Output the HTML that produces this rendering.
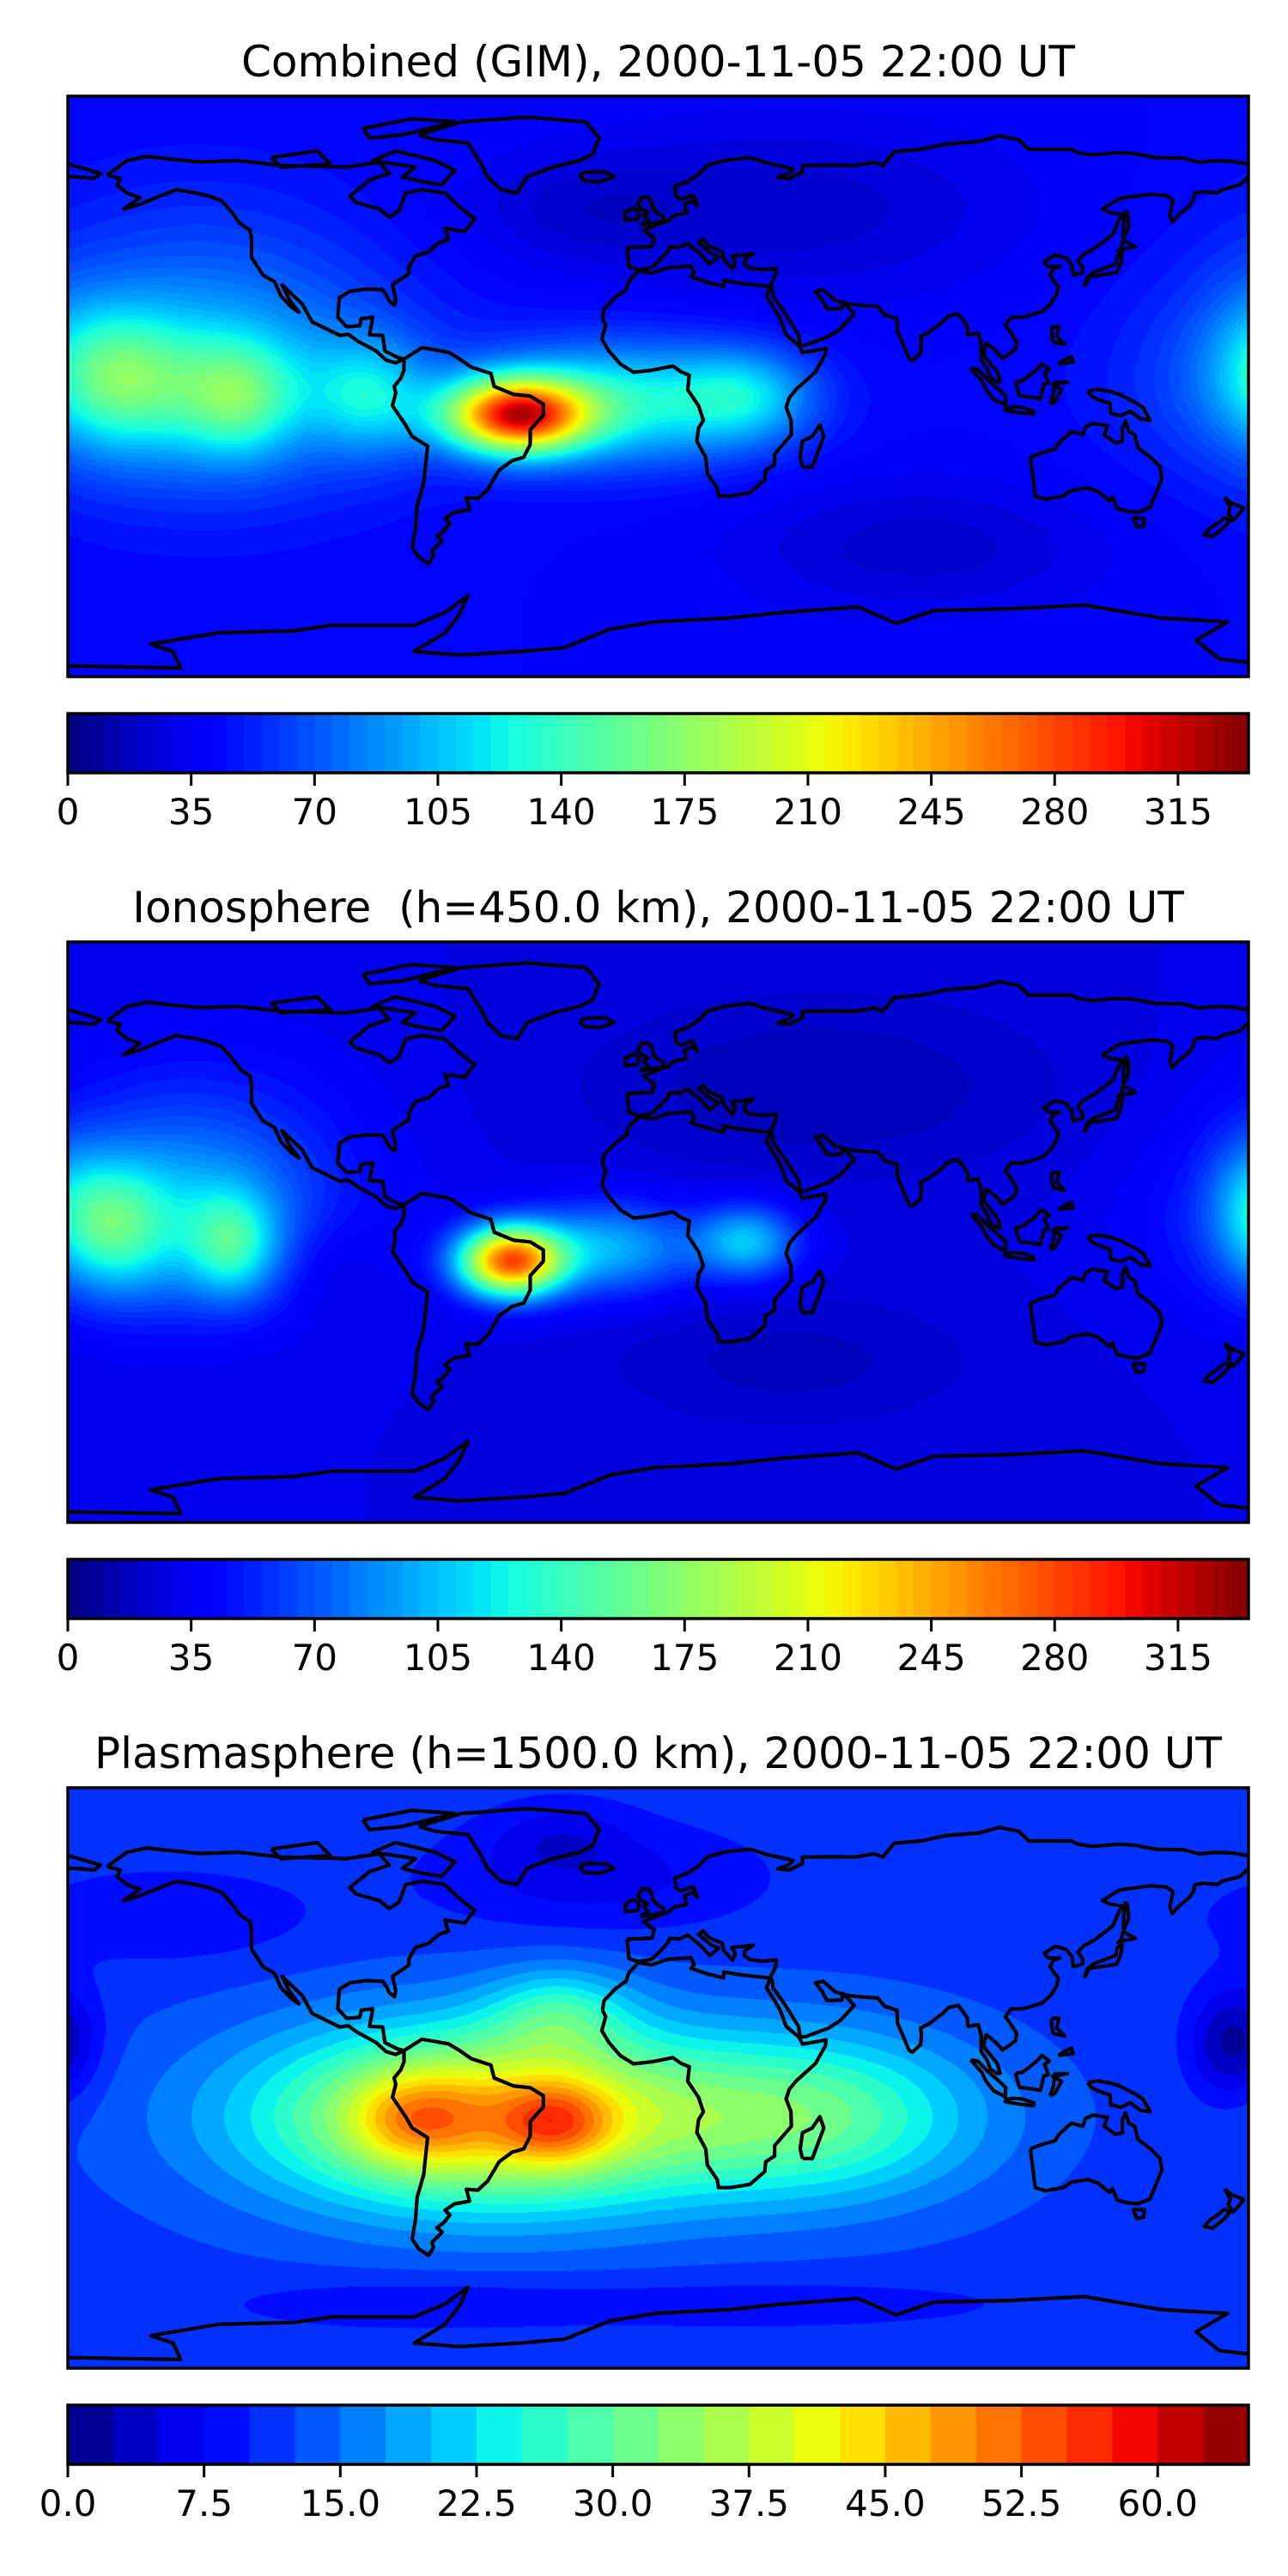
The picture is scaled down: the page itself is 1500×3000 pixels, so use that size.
<!DOCTYPE html>
<html><head><meta charset="utf-8">
<style>
html,body{margin:0;padding:0;background:#fff;}
body{width:1500px;height:3000px;position:relative;overflow:hidden;font-family:"DejaVu Sans","Liberation Sans",sans-serif;}
.title{position:absolute;left:0;width:1533px;text-align:center;font-size:50px;white-space:pre;color:#000;line-height:1;}
canvas{position:absolute;}
svg{position:absolute;left:0;top:0;}
</style></head>
<body>
<div class="title" style="top:47px">Combined (GIM), 2000-11-05 22:00 UT</div>
<div class="title" style="top:1032px">Ionosphere  (h=450.0 km), 2000-11-05 22:00 UT</div>
<div class="title" style="top:2017px">Plasmasphere (h=1500.0 km), 2000-11-05 22:00 UT</div>
<canvas id="c1" width="1375" height="676" style="left:79px;top:112px"></canvas>
<canvas id="c2" width="1375" height="676" style="left:79px;top:1097px"></canvas>
<canvas id="c3" width="1375" height="676" style="left:79px;top:2082px"></canvas>
<svg id="ov" width="1500" height="3000"></svg>
<script>
// ---- data ----
// gaussians: [lon, lat, amplitude, sigmaLon, sigmaLat]
const p1Base = 40;
const p1Gauss = [[-43,-9,235,15,8],[-10,-5,85,30,13],[27,-3,50,14,10],[-165,3,60,14,14],[-128,-4,60,12,12],[-88,-3,55,12,12],[-148,0,30,30,14],[-140,0,35,45,25],[-140,20,25,40,30],[180,15,10,10,15],[40,55,-18,50,20],[80,-50,-18,40,15],[-25,55,-12,25,12]];
const p2Base = 30;
const p2Gauss = [[-45,-9,235,11,7.5],[-15,-5,70,18,10],[27,-3,75,11,8],[-166,2,65,11,13],[-130,-4,65,9,11],[-150,0,35,35,18],[-148,5,25,25,20],[-140,25,25,35,25],[180,10,30,9,14],[50,45,-15,50,20],[40,-40,-12,40,15],[-100,-10,-12,10,12]];
const p3Base = 11.5;
const p3Gauss = [[-50,-12,33,50,20],[-31,-14,14,12,9],[-74,-13,12,14,10],[50,-12,16,35,18],[-30,20,10,15,10],[-20,62,-5,35,12],[-30,75,-4,15,8],[-150,50,-4,30,10],[-180,12,-6,8,12],[171,10,-6,8,12],[30,-70,-3,60,6],[-80,-70,-3,40,6]];
const p1Step = 5, p1Max = 335;
const p2Step = 5, p2Max = 335;
const p3Step = 2.5, p3Max = 65;
const p1Ticks = [0,35,70,105,140,175,210,245,280,315];
const p2Ticks = [0,35,70,105,140,175,210,245,280,315];
const p3Ticks = [0,7.5,15,22.5,30,37.5,45,52.5,60];
const p3TickLabels = ["0.0","7.5","15.0","22.5","30.0","37.5","45.0","52.5","60.0"];

const coastNA = [[-168,65.5],[-162,70],[-156,71.3],[-140,69.6],[-128,70],[-115,68.5],[-95,68],[-85,69.5],[-82,66],[-88,64],[-94,59],[-92,57],[-85,55],[-82,52.5],[-79,54.5],[-77,60],[-72,61],[-65,60],[-61,56],[-56,52],[-59,48],[-65,49],[-64,45.5],[-67,44.5],[-70,41.7],[-74,40.5],[-76,37],[-76,35],[-81,31.5],[-80,27],[-80.4,25.2],[-82,26.5],[-82.7,28],[-84,30],[-89,30.2],[-94,29.5],[-97.2,27.5],[-97.5,24],[-97.7,21.5],[-95,18.5],[-91,18.8],[-90.5,21],[-87,21.5],[-88,16],[-84,15.8],[-83.3,11],[-79.5,9],[-77.5,8.5],[-80,7.3],[-83,8.2],[-86,11],[-91.5,14],[-94.5,16.2],[-97,15.8],[-105.5,20],[-108.5,25.5],[-114.7,31.5],[-112.5,27],[-109.5,23],[-112,24.8],[-115,28],[-117,32.5],[-120.5,34.5],[-124,40],[-124,46],[-124.5,48.5],[-127.5,50.5],[-130,54],[-133,57.5],[-137,59],[-141,60],[-147,61],[-152,59],[-158,56.5],[-163,55],[-158,58.5],[-162,60],[-165,62.5],[-164,64.5],[-168,65.5]];
const coastGreenland = [[-73,78],[-60,82],[-40,83.5],[-22,82],[-18,77],[-20,72],[-24,70],[-32,68],[-40,65],[-43,60],[-48,61],[-52,65],[-54,69],[-58,75.5],[-68,76.5],[-73,78]];
const coastBaffin = [[-80,73],[-68,70],[-62,67],[-66,62.5],[-72,63.5],[-78,65],[-74,68],[-87,70],[-80,73]];
const coastEllesmere = [[-90,80],[-75,83],[-62,82],[-78,78],[-88,77],[-90,80]];
const coastVictoria = [[-118,71],[-104,73],[-100,69],[-115,68],[-118,71]];
const coastSA = [[-77.5,8.5],[-72,12],[-64,10.6],[-60.5,8.5],[-57,6],[-51,4],[-50,0],[-44,-2.5],[-39,-3],[-35,-5.5],[-35,-9],[-39,-13.5],[-39,-18],[-41,-22],[-44.5,-23],[-48.5,-26],[-52,-32],[-55,-34.8],[-58.5,-34.5],[-57.5,-38.2],[-62,-39],[-65,-41],[-63.5,-42.5],[-65.5,-45],[-67.5,-46.5],[-65.8,-47.8],[-69,-51],[-68.5,-52.5],[-70,-55],[-73,-53],[-75,-50],[-74,-44],[-73.5,-37],[-71.5,-30],[-70.3,-18.5],[-75,-15.5],[-77,-12],[-81,-6],[-80,-2],[-80.5,0],[-78.5,2.5],[-77.5,5],[-77.5,8.5]];
const coastAfrica = [[-17,21],[-16.5,24],[-13,27.7],[-9.8,30],[-9,32.5],[-6,35.8],[-2,35.1],[3,36.8],[10,37.3],[11,35.2],[10,34],[15,32.3],[20,31],[20,32.9],[25,32],[32,31.2],[34.3,31],[33,28],[35.5,24],[37.2,21],[39,16],[43,12.6],[44,10.5],[51.2,11.8],[51,10],[48,4.5],[42,-1],[40,-3.5],[39,-6.5],[40.5,-10.5],[40.6,-15],[35.5,-21],[35.5,-24.2],[32.8,-26],[32.5,-29],[28,-33],[22,-34],[18.4,-34],[18,-31.5],[15,-27],[14.5,-22],[11.8,-17],[12.3,-13],[13.8,-10.5],[12.3,-6],[9,-1],[9.5,3.5],[7,4.5],[4.5,6.3],[-2,5],[-7.5,4.4],[-11.5,6.9],[-15,11],[-17.2,14.7],[-16,19],[-17,21]];
const coastMadagascar = [[44,-25],[47,-25],[50.5,-15.5],[49.3,-12],[47,-15.5],[44,-17],[43.3,-22],[44,-25]];
const coastEurasia = [[-9.5,43],[-9,38.7],[-8.9,37],[-6,36.1],[-2,36.8],[0,38.7],[3,41.9],[3.5,43.3],[6.5,43.1],[9,44.3],[12.5,41.5],[15.7,38],[17,39],[18.5,40.2],[16,41.4],[12.3,44.5],[13.7,45.6],[15.5,43.5],[19.5,41.8],[20,39.5],[22.7,36.5],[23.5,38.5],[22.5,40.5],[26,40.8],[29,41.2],[26.5,39.5],[26.2,38],[28,36.7],[32,36.2],[36,36.6],[35.8,34.5],[34.3,31.4],[34.9,29.5],[35,28],[38.5,23],[42.8,16],[43.3,12.7],[45,12.8],[52,15.5],[55.5,17.8],[59.8,22.5],[56.3,26.2],[56,24.2],[51.5,24],[50,26.8],[48,29.5],[50.3,30],[54,26.7],[57.3,25.7],[62,25.1],[67,24.8],[69,22.3],[72.8,21],[73,17],[74.5,13.5],[76.5,8.6],[77.5,8],[80,10.3],[80.3,13.5],[80,15.5],[82.3,16.6],[86.8,20],[88.5,21.8],[91.5,22.5],[94.2,18.8],[94.5,16],[97.6,16.5],[98.5,13.3],[98.5,8.2],[100.3,5.5],[101.3,2.8],[103.5,1.3],[104.3,1.5],[103.4,4.5],[102,6.2],[100.2,8.5],[99.2,10],[100,13.4],[101,12.7],[103,11],[105,8.7],[106.5,9.7],[109,11.6],[109.3,13.8],[107,17.5],[105.8,19],[107.7,21.5],[111,21.4],[113.8,22.2],[117,23.2],[119.6,25.5],[121.5,28.5],[122,31],[121,32.3],[119.5,34.4],[120.5,36.5],[122.5,37.2],[119,37.2],[117.7,38.6],[121,40.8],[122.3,40.5],[124.3,39.9],[126.2,37.7],[126.5,34.5],[129.4,35.3],[129.5,36.8],[128,39],[129.8,41],[133,42.8],[138.5,47],[140.5,51.5],[141.4,53.3],[137.5,54],[135.5,55],[140.7,58.3],[150,59.6],[155,59.2],[157,57.8],[156,53],[156.8,51],[158.5,53],[162,56],[163.3,58],[163.5,59.8],[166,60.4],[170.5,60],[172,61],[177.5,62.5],[179.5,64.5],[180,65]];
const coastSiberia = [[180,68.9],[175,69.8],[170,70],[165,69.5],[160,70.8],[152,70.9],[145,72.2],[140,72.5],[132.5,71.8],[128,72.5],[126,73.5],[113,73.5],[110,76.5],[104,77.7],[98,76],[88,75.2],[80,73.5],[72,72.8],[68.5,68.5],[66,69.5],[60,68.5],[54,68.6],[44,68.5],[44,66.5],[40,64.5],[36.5,64.8],[40,66.2],[41.1,67.5],[33,69.3],[28,71],[20,70],[15,68.5],[12,65.5],[9,63.5],[5,62],[5.5,58.8],[7,58],[10.5,59.3],[11,58.5],[12,56],[10.5,57.6],[8.1,56.5],[8.6,53.8],[4.8,53],[3,51.3],[1.6,50.9],[-1.5,49.7],[-4.5,48.5],[-1.2,46],[-1.8,43.4],[-9.5,43]];
const coastChukotka = [[-180,69],[-175,67.5],[-170,66],[-172,64.5],[-178,65],[-180,65]];
const coastBritain = [[-5.5,50],[1.5,51.2],[1.7,52.7],[0,53.5],[-1.5,55],[-2,57.5],[-3,58.6],[-5,58.6],[-6.2,56.5],[-5,55],[-3,54],[-4.5,53.3],[-3,51.5],[-5.5,50]];
const coastIreland = [[-6,52],[-6,54.5],[-7.5,55.3],[-10,54],[-10,51.6],[-6,52]];
const coastIceland = [[-24,65.5],[-22,66.4],[-16,66.5],[-13.5,65],[-18,63.4],[-22.5,63.8],[-24,65.5]];
const coastJapan = [[130,31],[131.5,34],[135,34.5],[139.8,35.3],[141,38],[141.5,41.3],[140,40.5],[139.5,38],[137,37],[133,35.5],[130.8,33.8],[130,31]];
const coastHokkaido = [[140,41.5],[141.5,42.5],[144,43],[145.5,43.3],[141.8,45.4],[141.3,43.3],[140,41.5]];
const coastSumatra = [[95.3,5.6],[97.5,5.2],[100.5,2],[104,-1],[106,-3],[105.8,-5.8],[102.3,-4],[100,-1],[98.7,1.7],[95.3,5.6]];
const coastJava = [[105.5,-6.8],[108,-6.3],[111,-6.5],[114.5,-7.7],[114.5,-8.6],[110,-8.1],[106,-7.4],[105.5,-6.8]];
const coastBorneo = [[109,1.5],[109.6,-1],[110.2,-2.9],[114.5,-3.5],[116.5,-3.9],[117.6,0.6],[119,1],[117.8,4.3],[119.3,5.3],[117,7],[115.5,5.3],[113,3.2],[111,1.7],[109,1.5]];
const coastSulawesi = [[119.5,-5.5],[120.5,-2.5],[121,1.2],[124.8,1.3],[120.3,0.6],[123,-1],[121,-4.7],[119.5,-5.5]];
const coastNewGuinea = [[131,-1.5],[134,-0.9],[138,-1.6],[141,-2.6],[145.5,-5],[147.8,-6.5],[150,-10.5],[147,-10],[144,-7.7],[141,-9.1],[138,-8.3],[137.8,-5.3],[134,-4],[132,-2.9],[131,-1.5]];
const coastLuzon = [[120,18.5],[122.2,18.5],[121.5,15.5],[124,13],[120.5,13.8],[120,16],[120,18.5]];
const coastMindanao = [[122,7],[126.5,7.5],[126,9.3],[123.5,8],[122,7]];
const coastSakhalin = [[142,46],[143.5,49.5],[143,54],[142.5,54.3],[142,51],[141.8,46.5],[142,46]];
const coastAustralia = [[113.5,-22],[114,-26],[115,-34],[118,-35],[123.5,-34],[126,-32.3],[131,-31.5],[134,-32.5],[137.7,-35.5],[138.5,-34.3],[140,-37.9],[143.5,-38.8],[146.3,-39],[150,-37.5],[153.6,-28.5],[153,-25],[150.5,-22.3],[146.3,-19],[145.3,-15],[143.5,-14],[142.5,-10.7],[141.5,-13],[141.6,-17],[139.5,-17.5],[136,-15],[137,-12.2],[132.5,-11.5],[130.3,-12.6],[129.5,-15],[126,-14],[122.2,-17.5],[121,-19.5],[117,-20.6],[113.5,-22]];
const coastTasmania = [[144.7,-40.7],[148.3,-40.9],[148,-43.2],[146,-43.6],[144.7,-40.7]];
const coastNZN = [[172.7,-34.4],[174.5,-36],[178.5,-37.7],[176.8,-40],[175.2,-41.6],[173.8,-39.2],[174.5,-37.5],[172.7,-34.4]];
const coastNZS = [[172.7,-40.5],[174.2,-41.7],[172.7,-43.6],[171,-45],[169,-46.6],[166.5,-46],[168.3,-44],[171.5,-41.8],[172.7,-40.5]];
const coastAntarctica = [[-180,-86.7],[-145.6,-87.3],[-147.9,-82.2],[-154.7,-79.9],[-134,-76.4],[-111,-75.8],[-99.6,-74.1],[-74.4,-74.1],[-65,-70.1],[-58,-64.9],[-60.6,-70.7],[-65,-76.4],[-74.4,-82.2],[-60.6,-83.3],[-42,-82.2],[-28.5,-81],[-14.7,-75.3],[-1,-73],[22,-71.8],[38,-70.1],[61,-68.4],[72.6,-73.5],[84,-69.5],[107,-69],[130,-67.8],[153,-71.8],[173.6,-73],[164,-78.7],[171,-84.5],[180,-85.6]];
const coastlines = [coastNA,coastGreenland,coastBaffin,coastEllesmere,coastVictoria,coastSA,coastAfrica,coastMadagascar,coastEurasia,coastSiberia,coastChukotka,coastBritain,coastIreland,coastIceland,coastJapan,coastHokkaido,coastSumatra,coastJava,coastBorneo,coastSulawesi,coastNewGuinea,coastLuzon,coastMindanao,coastSakhalin,coastAustralia,coastTasmania,coastNZN,coastNZS,coastAntarctica];

// ---- rendering ----
const MX = 79, MW = 1375, MH = 676;
const ov = document.getElementById('ov');
const NS = 'http://www.w3.org/2000/svg';
function seg(x,pts){for(let i=0;i<pts.length-1;i++){if(x>=pts[i][0]&&x<=pts[i+1][0]){const f=(x-pts[i][0])/(pts[i+1][0]-pts[i][0]);return pts[i][1]+f*(pts[i+1][1]-pts[i][1]);}}return pts[pts.length-1][1];}
function jet(t){t=Math.max(0,Math.min(1,t));
  const r=seg(t,[[0,0],[0.35,0],[0.66,1],[0.89,1],[1,0.5]]);
  const g=seg(t,[[0,0],[0.125,0],[0.375,1],[0.64,1],[0.91,0],[1,0]]);
  const b=seg(t,[[0,0.5],[0.11,1],[0.34,1],[0.65,0],[1,0]]);
  return [Math.round(r*255),Math.round(g*255),Math.round(b*255)];}
function drawField(id, base, gauss, step, vmax){
  const c=document.getElementById(id), ctx=c.getContext('2d');
  const img=ctx.createImageData(MW,MH), d=img.data;
  const nb=Math.round(vmax/step);
  const pal=[];for(let k=0;k<nb;k++)pal.push(jet((k+0.5)/nb));
  for(let y=0;y<MH;y++){const lat=90-(y+0.5)/MH*180;
    for(let x=0;x<MW;x++){const lon=-180+(x+0.5)/MW*360;let v=base;
      for(const g of gauss){let dl=lon-g[0];if(dl>180)dl-=360;if(dl<-180)dl+=360;
        const a=dl/g[3],b=(lat-g[1])/g[4];v+=g[2]*Math.exp(-0.5*(a*a+b*b));}
      let k=Math.floor(v/step);if(k<0)k=0;if(k>=nb)k=nb-1;
      const col=pal[k],i=(y*MW+x)*4;d[i]=col[0];d[i+1]=col[1];d[i+2]=col[2];d[i+3]=255;}}
  ctx.putImageData(img,0,0);}
function px(lon){return MX+(lon+180)/360*MW;}
function py(lat,top){return top+(90-lat)/180*MH;}
function drawCoast(top,name){
  const g=document.createElementNS(NS,'g');
  
  
  for(const poly of coastlines){
    const p=document.createElementNS(NS,'polyline');
    p.setAttribute('points',poly.map(q=>px(q[0]).toFixed(1)+','+py(q[1],top).toFixed(1)).join(' '));
    p.setAttribute('fill','none');p.setAttribute('stroke','#000');p.setAttribute('stroke-width','4.2');p.setAttribute('stroke-linejoin','round');
    
    
    g.appendChild(p);}
  const r=document.createElementNS(NS,'rect');
  r.setAttribute('x',MX);r.setAttribute('y',top);r.setAttribute('width',MW);r.setAttribute('height',MH);
  r.setAttribute('fill','none');r.setAttribute('stroke','#000');r.setAttribute('stroke-width','3.5');
  
  
  g.appendChild(r);ov.appendChild(g);}
function drawColorbar(top, step, vmax, ticks, labels, name){
  const g=document.createElementNS(NS,'g');
  
  
  const h=69, nb=Math.round(vmax/step), sx=v=>MX+v/vmax*MW;
  for(let k=0;k<nb;k++){const col=jet((k+0.5)/nb);
    const r=document.createElementNS(NS,'rect');
    r.setAttribute('x',sx(k*step).toFixed(2));r.setAttribute('y',top);
    r.setAttribute('width',(sx((k+1)*step)-sx(k*step)+0.6).toFixed(2));r.setAttribute('height',h);
    r.setAttribute('fill','rgb('+col.join(',')+')');
    
    
    g.appendChild(r);}
  const fr=document.createElementNS(NS,'rect');
  fr.setAttribute('x',MX);fr.setAttribute('y',top);fr.setAttribute('width',MW);fr.setAttribute('height',h);
  fr.setAttribute('fill','none');fr.setAttribute('stroke','#000');fr.setAttribute('stroke-width','3.5');
  
  
  g.appendChild(fr);
  ticks.forEach((t,i)=>{const x=sx(t);
    const l=document.createElementNS(NS,'line');
    l.setAttribute('x1',x);l.setAttribute('x2',x);l.setAttribute('y1',top+h);l.setAttribute('y2',top+h+15);
    l.setAttribute('stroke','#000');l.setAttribute('stroke-width','3');
    
    
    g.appendChild(l);
    const tx=document.createElementNS(NS,'text');
    tx.setAttribute('x',x);tx.setAttribute('y',top+h+60);tx.setAttribute('text-anchor','middle');
    tx.setAttribute('font-size','42');tx.setAttribute('font-family','"DejaVu Sans","Liberation Sans",sans-serif');
    tx.textContent=labels?labels[i]:String(t);
    
    
    g.appendChild(tx);});
  ov.appendChild(g);}
drawField('c1',p1Base,p1Gauss,p1Step,p1Max);
drawField('c2',p2Base,p2Gauss,p2Step,p2Max);
drawField('c3',p3Base,p3Gauss,p3Step,p3Max);
drawCoast(112,'combined-coastlines');
drawCoast(1097,'ionosphere-coastlines');
drawCoast(2082,'plasmasphere-coastlines');
drawColorbar(831,p1Step,p1Max,p1Ticks,null,'combined-colorbar');
drawColorbar(1816,p2Step,p2Max,p2Ticks,null,'ionosphere-colorbar');
drawColorbar(2801,p3Step,p3Max,p3Ticks,p3TickLabels,'plasmasphere-colorbar');
</script>
</body></html>
